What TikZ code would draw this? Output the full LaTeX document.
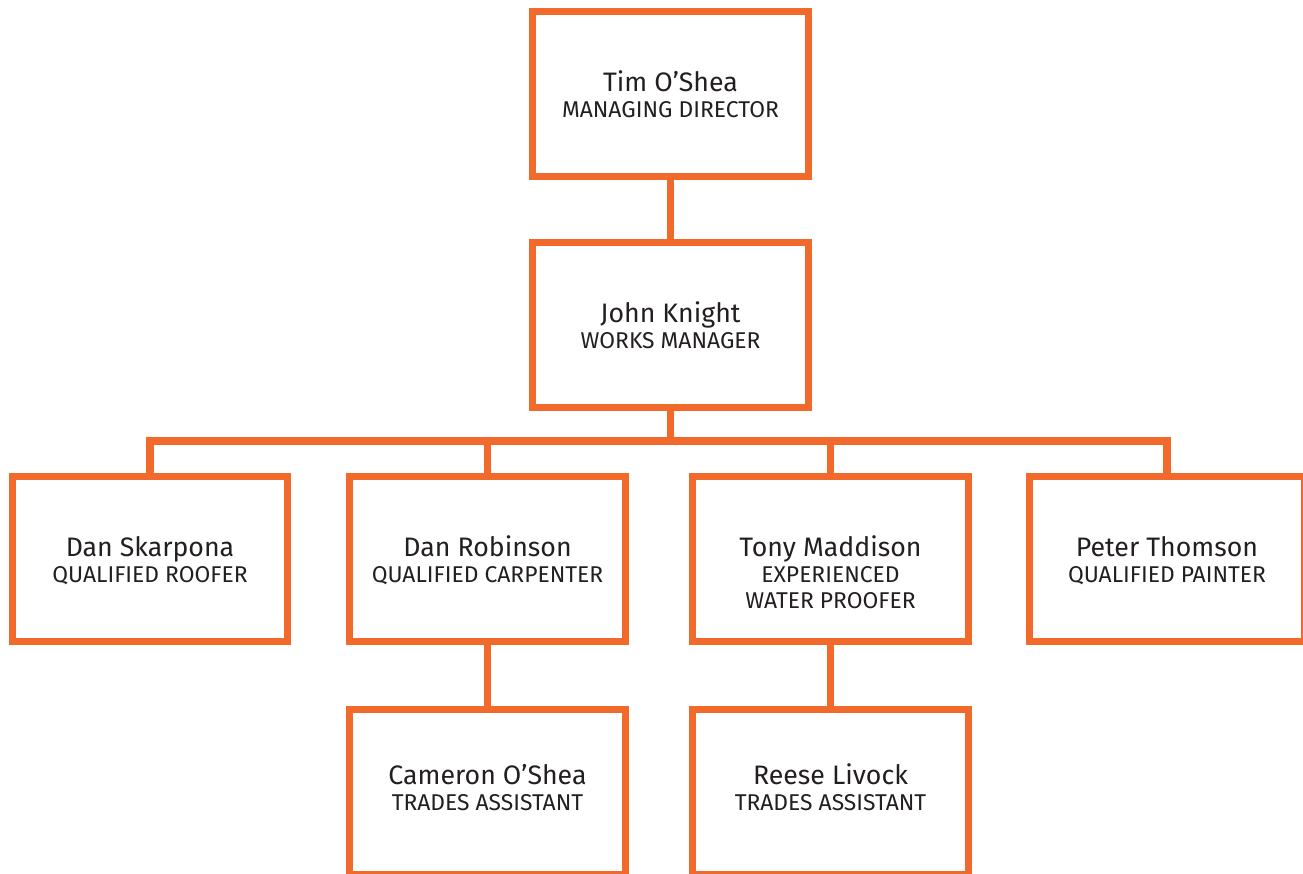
\documentclass[tikz,border=0pt]{standalone}
\usepackage{fontspec}
\setmainfont{Fira Sans}
\usepackage{xcolor}
\usetikzlibrary{positioning}
\definecolor{boxorange}{RGB}{241,106,43}
\definecolor{textgrey}{RGB}{35,31,32}
\newcommand{\staffname}[2]{\begin{tabular}[t]{@{}c@{}}{\fontsize{15.2}{14.8}\selectfont #1}\\#2\end{tabular}}

\begin{document}
\begin{tikzpicture}[x=0.02cm,y=-0.02cm,
        staff/.style = {rectangle, draw = boxorange, line width = 4pt, fill = white, minimum width = 5.52cm, minimum height = 3.3cm, inner sep = 0pt, text = textgrey, font = \fontsize{13}{14.8}\selectfont, text height = 20pt, text depth = 22.8pt},
        assistant/.style = {staff, text depth = 28.5pt},
        link/.style = {draw = boxorange, line width = 4pt, line join = miter}]
        \useasboundingbox (0,0) rectangle (1303,874);
        \clip (0,0) rectangle (1303,874);
        \fill [white] (0,0) rectangle (1303,874);
        \coordinate (bus) at (670.5,441);
        \path [link] (670.5,94) -- (670.5,325);
        \path [link] (670.5,325) -- (bus);
        \path [link] (150,559) |- (bus) -| (1167,559);
        \path [link] (487.5,441) -- (487.5,792);
        \path [link] (830.5,441) -- (830.5,792);
        \node (tim) at (670.5,94) [staff] {\staffname{Tim O’Shea}{MANAGING DIRECTOR}};
        \node (john) at (670.5,325) [staff] {\staffname{John Knight}{WORKS MANAGER}};
        \node (dans) at (150,559) [staff] {\staffname{Dan Skarpona}{QUALIFIED ROOFER}};
        \node (danr) at (487.5,559) [staff] {\staffname{Dan Robinson}{QUALIFIED CARPENTER}};
        \node (tony) at (830.5,559) [staff] {\staffname{Tony Maddison}{EXPERIENCED\\WATER PROOFER}};
        \node (peter) at (1167,559) [staff] {\staffname{Peter Thomson}{QUALIFIED PAINTER}};
        \node (cameron) at (487.5,792) [assistant] {\staffname{Cameron O’Shea}{TRADES ASSISTANT}};
        \node (reese) at (830.5,792) [assistant] {\staffname{Reese Livock}{TRADES ASSISTANT}};
    \end{tikzpicture}
\end{document}
